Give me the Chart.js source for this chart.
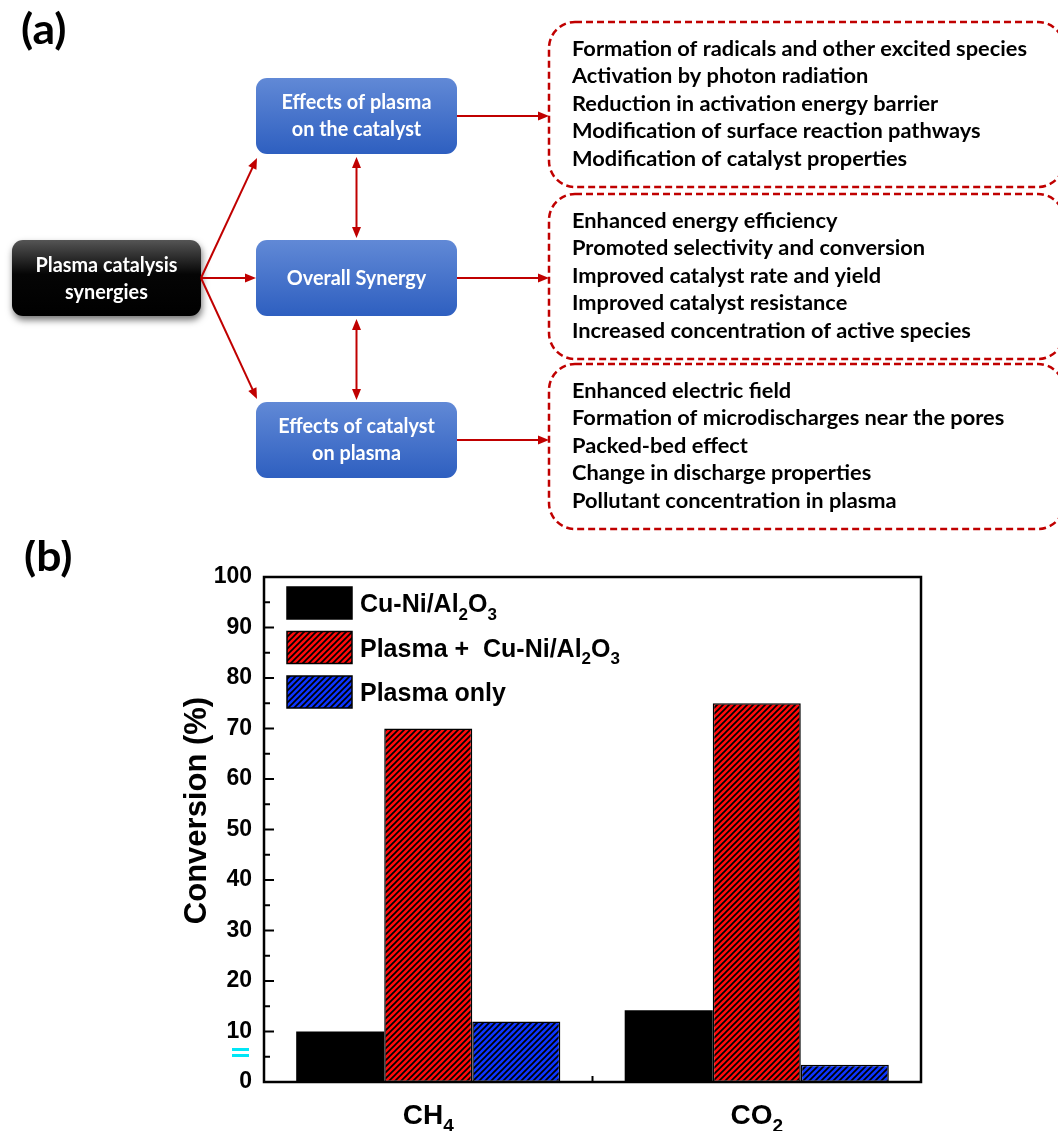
<!DOCTYPE html>
<html>
<head>
<meta charset="utf-8">
<script src="https://cdn.jsdelivr.net/npm/chart.js@4/dist/chart.umd.min.js"></script>
<style>
  html, body { margin: 0; padding: 0; background: #fff; }
  #wrap { position: relative; width: 1058px; height: 1131px; overflow: hidden; background: #fff; }
  #flow { position: absolute; left: 0; top: 0; }
  #chartBox { position: absolute; left: 0; top: 540px; width: 1058px; height: 591px; }
</style>
</head>
<body>
<div id="wrap">
  <canvas id="flow" width="1058" height="540"></canvas>
  <div id="chartBox"><canvas id="bars" width="1058" height="591"></canvas></div>
</div>
<script>
// ---------- bar chart data (b) ----------
// "_x" marks a subscript character
const categories = ['CH_4', 'CO_2'];
const seriesNames = ['Cu-Ni/Al_2O_3', 'Plasma +  Cu-Ni/Al_2O_3', 'Plasma only'];
const catalystOnly = [10.0, 14.2];
const plasmaCatalyst = [70.0, 75.0];
const plasmaOnly = [12.0, 3.4];
const yMin = 0, yMax = 100, yStep = 10;
const yTitle = 'Conversion (%)';

// ---------- flow diagram text (a) ----------
const hubLabel = ['Plasma catalysis', 'synergies'];
const branchLabels = [
  ['Effects of plasma', 'on the catalyst'],
  ['Overall Synergy'],
  ['Effects of catalyst', 'on plasma']
];
const plasmaOnCatalyst = [
  'Formation of radicals and other excited species',
  'Activation by photon radiation',
  'Reduction in activation energy barrier',
  'Modification of surface reaction pathways',
  'Modification of catalyst properties'
];
const overallSynergy = [
  'Enhanced energy efficiency',
  'Promoted selectivity and conversion',
  'Improved catalyst rate and yield',
  'Improved catalyst resistance',
  'Increased concentration of active species'
];
const catalystOnPlasma = [
  'Enhanced electric field',
  'Formation of microdischarges near the pores',
  'Packed-bed effect',
  'Change in discharge properties',
  'Pollutant concentration in plasma'
];

// ================= flow diagram =================
const fc = document.getElementById('flow').getContext('2d');
const RED = '#c00000';
const FLOW_FONT = 'Lato, "Open Sans", sans-serif';

function rr(ctx, x, y, w, h, r) {
  ctx.beginPath();
  ctx.moveTo(x + r, y);
  ctx.lineTo(x + w - r, y);
  ctx.arcTo(x + w, y, x + w, y + r, r);
  ctx.lineTo(x + w, y + h - r);
  ctx.arcTo(x + w, y + h, x + w - r, y + h, r);
  ctx.lineTo(x + r, y + h);
  ctx.arcTo(x, y + h, x, y + h - r, r);
  ctx.lineTo(x, y + r);
  ctx.arcTo(x, y, x + r, y, r);
  ctx.closePath();
}

function squeezedText(ctx, text, x, y, sx, align) {
  ctx.save();
  ctx.translate(x, y);
  ctx.scale(sx, 1);
  ctx.textAlign = align;
  ctx.fillText(text, 0, 0);
  ctx.restore();
}

function head(ctx, x1, y1, x2, y2, len, half) {
  const a = Math.atan2(y2 - y1, x2 - x1);
  ctx.beginPath();
  ctx.moveTo(x2, y2);
  ctx.lineTo(x2 - len * Math.cos(a) + half * Math.sin(a), y2 - len * Math.sin(a) - half * Math.cos(a));
  ctx.lineTo(x2 - len * Math.cos(a) - half * Math.sin(a), y2 - len * Math.sin(a) + half * Math.cos(a));
  ctx.closePath();
  ctx.fill();
}

function arrow(ctx, x1, y1, x2, y2, both) {
  const len = 11, half = 4.5;
  const a = Math.atan2(y2 - y1, x2 - x1);
  const sx = both ? x1 + (len - 2) * Math.cos(a) : x1;
  const sy = both ? y1 + (len - 2) * Math.sin(a) : y1;
  ctx.strokeStyle = RED; ctx.fillStyle = RED; ctx.lineWidth = 2;
  ctx.beginPath();
  ctx.moveTo(sx, sy);
  ctx.lineTo(x2 - (len - 2) * Math.cos(a), y2 - (len - 2) * Math.sin(a));
  ctx.stroke();
  head(ctx, x1, y1, x2, y2, len, half);
  if (both) head(ctx, x2, y2, x1, y1, len, half);
}

function panelLetter(ctx, text, x, baseline) {
  ctx.save();
  ctx.fillStyle = '#000';
  ctx.font = 'bold 42px ' + FLOW_FONT;
  ctx.textBaseline = 'alphabetic';
  ctx.textAlign = 'left';
  squeezedText(ctx, text, x, baseline, 1.06, 'left');
  ctx.restore();
}

function drawFlow(ctx) {
  panelLetter(ctx, '(a)', 21, 44);

  // hub box (black)
  const hub = { x: 12, y: 240, w: 189, h: 76 };
  ctx.save();
  ctx.shadowColor = 'rgba(0,0,0,0.55)';
  ctx.shadowBlur = 7;
  ctx.shadowOffsetX = 1;
  ctx.shadowOffsetY = 4;
  rr(ctx, hub.x, hub.y, hub.w, hub.h, 11);
  const hg = ctx.createLinearGradient(0, hub.y, 0, hub.y + hub.h);
  hg.addColorStop(0, '#555555');
  hg.addColorStop(0.45, '#050505');
  hg.addColorStop(1, '#000000');
  ctx.fillStyle = hg;
  ctx.fill();
  ctx.restore();

  // branch boxes (blue)
  const bx = 256, bw = 201, bh = 76;
  const branchY = [78, 240, 402];
  branchY.forEach(y => {
    rr(ctx, bx, y, bw, bh, 11);
    const g = ctx.createLinearGradient(0, y, 0, y + bh);
    g.addColorStop(0, '#6189d6');
    g.addColorStop(1, '#2e5fc0');
    ctx.fillStyle = g;
    ctx.fill();
  });

  // box captions
  ctx.font = 'bold 20.5px ' + FLOW_FONT;
  ctx.textBaseline = 'middle';
  ctx.fillStyle = '#fff';
  const capScale = 150 / ctx.measureText(branchLabels[0][0]).width;
  hubLabel.forEach((t, i) => squeezedText(ctx, t, hub.x + hub.w / 2, hub.y + 25 + i * 27, capScale, 'center'));
  branchLabels.forEach((lines, k) => {
    const cy = branchY[k] + bh / 2;
    lines.forEach((t, i) => {
      const y = cy + (i - (lines.length - 1) / 2) * 27;
      squeezedText(ctx, t, bx + bw / 2, y, capScale, 'center');
    });
  });

  // arrows from the hub
  const ox = hub.x + hub.w, oy = hub.y + hub.h / 2;
  arrow(ctx, ox, oy, bx + 1, 158, false);
  arrow(ctx, ox, oy, bx, oy, false);
  arrow(ctx, ox, oy, bx + 1, 399, false);
  // arrows between branches
  const mx = bx + bw / 2;
  arrow(ctx, mx, 157, mx, 238, true);
  arrow(ctx, mx, 319, mx, 400, true);

  // dashed outcome boxes
  const dx = 549, dw = 515, dh = 165;
  const dashY = [22, 194, 364];
  const arrowY = [116, 278, 440];
  const lists = [plasmaOnCatalyst, overallSynergy, catalystOnPlasma];
  dashY.forEach((y, k) => {
    ctx.save();
    ctx.strokeStyle = RED;
    ctx.lineWidth = 2.5;
    ctx.setLineDash([7, 4]);
    rr(ctx, dx, y, dw, dh, 26);
    ctx.stroke();
    ctx.restore();
    arrow(ctx, bx + bw, arrowY[k], dx, arrowY[k], false);
  });

  ctx.fillStyle = '#000';
  ctx.font = 'bold 20.5px ' + FLOW_FONT;
  ctx.textBaseline = 'middle';
  const listScale = 455 / ctx.measureText(plasmaOnCatalyst[0]).width;
  lists.forEach((lines, k) => {
    lines.forEach((t, i) => squeezedText(ctx, t, 572, dashY[k] + 27 + i * 27.5, listScale, 'left'));
  });
}
drawFlow(fc);

// ================= bar chart =================
const barCanvas = document.getElementById('bars');
const bctx = barCanvas.getContext('2d');
const CHART_FONT = '"Liberation Sans", Arial, Helvetica, sans-serif';

function hatch(color) {
  const p = 6;
  const c = document.createElement('canvas');
  c.width = p; c.height = p;
  const g = c.getContext('2d');
  g.fillStyle = color;
  g.fillRect(0, 0, p, p);
  g.strokeStyle = '#000';
  g.lineWidth = 1.7;
  g.beginPath();
  g.moveTo(0, p); g.lineTo(p, 0);
  g.moveTo(-1, 1); g.lineTo(1, -1);
  g.moveTo(p - 1, p + 1); g.lineTo(p + 1, p - 1);
  g.stroke();
  return bctx.createPattern(c, 'repeat');
}

// text with "_x" subscripts
function drawRich(ctx, str, x, y, size, align) {
  const parts = [];
  for (let i = 0; i < str.length; i++) {
    if (str[i] === '_' && i + 1 < str.length) { parts.push({ t: str[i + 1], sub: true }); i++; }
    else if (parts.length && !parts[parts.length - 1].sub) parts[parts.length - 1].t += str[i];
    else parts.push({ t: str[i], sub: false });
  }
  const subSize = Math.round(size * 0.68);
  const fontOf = p => 'bold ' + (p.sub ? subSize : size) + 'px ' + CHART_FONT;
  let total = 0;
  parts.forEach(p => { ctx.font = fontOf(p); p.w = ctx.measureText(p.t).width; total += p.w; });
  let cx = align === 'center' ? x - total / 2 : x;
  ctx.textAlign = 'left';
  ctx.textBaseline = 'alphabetic';
  parts.forEach(p => {
    ctx.font = fontOf(p);
    ctx.fillText(p.t, cx, p.sub ? y + size * 0.3 : y);
    cx += p.w;
  });
}

const fills = ['#000000', hatch('#ff0a0a'), hatch('#0d35ff')];

const framePlugin = {
  id: 'frameAndLabels',
  afterDraw(chart) {
    const { ctx, chartArea: a, scales: { x, y } } = chart;
    ctx.save();
    ctx.strokeStyle = '#000';
    ctx.fillStyle = '#000';

    const seg = (x1, y1, x2, y2) => { ctx.beginPath(); ctx.moveTo(x1, y1); ctx.lineTo(x2, y2); ctx.stroke(); };

    // inward y ticks (major + minor)
    ctx.lineWidth = 2;
    y.ticks.forEach((t, i) => {
      const py = y.getPixelForValue(t.value);
      seg(a.left, py, a.left + 10, py);
      if (i < y.ticks.length - 1) {
        const pm = y.getPixelForValue(t.value + yStep / 2);
        seg(a.left, pm, a.left + 6, pm);
      }
    });
    // tick between categories
    for (let i = 0; i < categories.length - 1; i++) {
      const px = (x.getPixelForTick(i) + x.getPixelForTick(i + 1)) / 2;
      seg(px, a.bottom, px, a.bottom - 6);
    }

    // frame
    ctx.lineWidth = 2.5;
    ctx.strokeRect(a.left, a.top, a.right - a.left, a.bottom - a.top);

    // category labels
    categories.forEach((c, i) => drawRich(ctx, c, x.getPixelForTick(i), a.bottom + 42, 28, 'center'));

    // y title
    ctx.save();
    ctx.translate(a.left - 67, (a.top + a.bottom) / 2 - 19);
    ctx.rotate(-Math.PI / 2);
    ctx.font = 'bold 31px ' + CHART_FONT;
    ctx.textAlign = 'center';
    ctx.textBaseline = 'middle';
    ctx.fillText(yTitle, 0, 0);
    ctx.restore();

    // legend
    chart.data.datasets.forEach((ds, i) => {
      const bxl = a.left + 23, byt = a.top + 10 + i * 44.5;
      ctx.fillStyle = ds.backgroundColor;
      ctx.fillRect(bxl, byt, 65, 32);
      ctx.lineWidth = 1.5;
      ctx.strokeStyle = '#000';
      ctx.strokeRect(bxl, byt, 65, 32);
      ctx.fillStyle = '#000';
      drawRich(ctx, seriesNames[i], a.left + 96, byt + 25, 25, 'left');
    });

    // small cyan double dash beside the axis
    ctx.fillStyle = '#00e6f6';
    ctx.fillRect(a.left - 32, a.bottom - 34, 17, 3);
    ctx.fillRect(a.left - 32, a.bottom - 28, 17, 3);
    ctx.restore();

    // panel letter
    panelLetter(ctx, '(b)', 24, 31);
  }
};

new Chart(barCanvas, {
  type: 'bar',
  data: {
    labels: categories,
    datasets: [
      { label: seriesNames[0], data: catalystOnly, backgroundColor: fills[0], borderColor: '#000', borderWidth: 0 },
      { label: seriesNames[1], data: plasmaCatalyst, backgroundColor: fills[1], borderColor: '#000', borderWidth: 1.5 },
      { label: seriesNames[2], data: plasmaOnly, backgroundColor: fills[2], borderColor: '#000', borderWidth: 1.5 }
    ]
  },
  options: {
    responsive: false,
    animation: false,
    devicePixelRatio: 1,
    layout: { padding: { left: 0, right: 137, top: 37, bottom: 0 } },
    datasets: { bar: { barPercentage: 1, categoryPercentage: 0.804, borderSkipped: false } },
    plugins: { legend: { display: false }, tooltip: { enabled: false } },
    scales: {
      x: {
        grid: { display: false, drawTicks: false },
        border: { display: false },
        ticks: { display: false },
        afterFit(s) { s.height = 49; }
      },
      y: {
        min: yMin, max: yMax,
        grid: { display: false, drawTicks: false },
        border: { display: false },
        ticks: {
          stepSize: yStep, color: '#000', padding: 12,
          font: { family: CHART_FONT, size: 23, weight: 'bold' }
        },
        afterFit(s) { s.width = 264; }
      }
    }
  },
  plugins: [framePlugin]
});
</script>
</body>
</html>
